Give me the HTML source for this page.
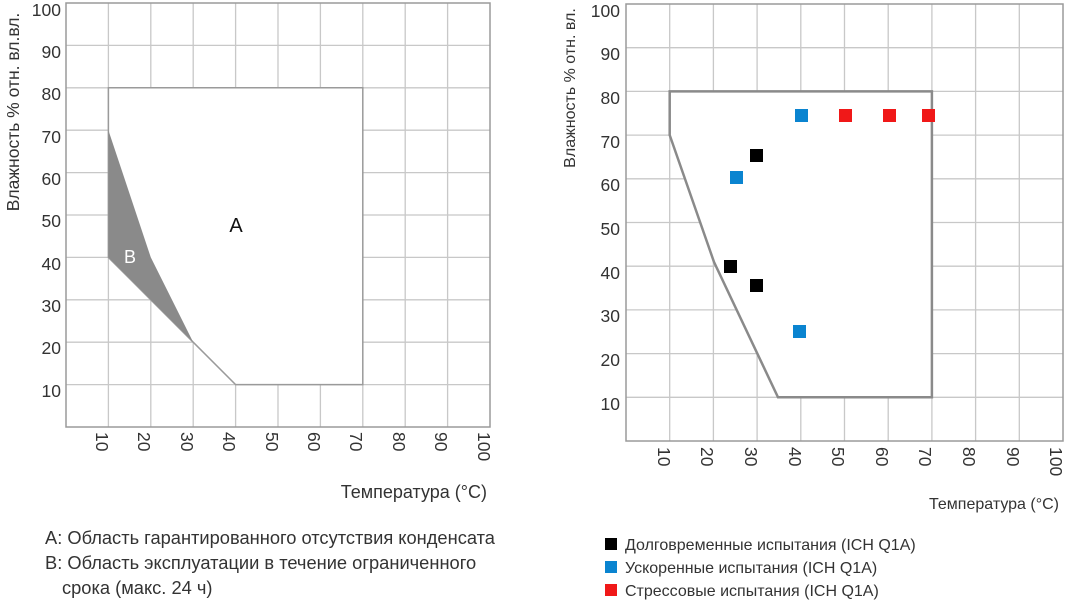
<!DOCTYPE html>
<html><head><meta charset="utf-8"><style>
html,body{margin:0;padding:0;background:#fff;}
svg{display:block;font-family:"Liberation Sans","DejaVu Sans",sans-serif;}
</style></head><body>
<svg width="1068" height="600" viewBox="0 0 1068 600" xmlns="http://www.w3.org/2000/svg">
<!-- LEFT CHART -->
<g stroke="#c8c8c8" stroke-width="1.3">
<line x1="108.4" y1="3" x2="108.4" y2="427"/><line x1="150.8" y1="3" x2="150.8" y2="427"/>
<line x1="193.2" y1="3" x2="193.2" y2="427"/><line x1="235.6" y1="3" x2="235.6" y2="427"/>
<line x1="278" y1="3" x2="278" y2="427"/><line x1="320.4" y1="3" x2="320.4" y2="427"/>
<line x1="362.8" y1="3" x2="362.8" y2="427"/><line x1="405.2" y1="3" x2="405.2" y2="427"/>
<line x1="447.6" y1="3" x2="447.6" y2="427"/>
<line x1="66" y1="45.4" x2="490" y2="45.4"/><line x1="66" y1="87.8" x2="490" y2="87.8"/>
<line x1="66" y1="130.2" x2="490" y2="130.2"/><line x1="66" y1="172.6" x2="490" y2="172.6"/>
<line x1="66" y1="215" x2="490" y2="215"/><line x1="66" y1="257.4" x2="490" y2="257.4"/>
<line x1="66" y1="299.8" x2="490" y2="299.8"/><line x1="66" y1="342.2" x2="490" y2="342.2"/>
<line x1="66" y1="384.6" x2="490" y2="384.6"/>
</g>
<polygon points="108.4,87.8 362.8,87.8 362.8,384.6 235.6,384.6 193.2,342.2 108.4,257.4" fill="#fff" stroke="#9a9a9a" stroke-width="1.5"/>
<polygon points="108.4,130.2 150.8,257.4 193.2,342.2 108.4,257.4" fill="#8a8a8a"/>
<rect x="66" y="3" width="424" height="424" fill="none" stroke="#9a9a9a" stroke-width="1.5"/>
<text x="236" y="232" font-size="20" fill="#111" text-anchor="middle">A</text>
<text x="130" y="263" font-size="18" fill="#fff" text-anchor="middle">B</text>
<g font-size="17.5" fill="#333" text-anchor="end">
<text x="61" y="16">100</text><text x="61" y="58">90</text><text x="61" y="100">80</text>
<text x="61" y="143">70</text><text x="61" y="185">60</text><text x="61" y="227">50</text>
<text x="61" y="270">40</text><text x="61" y="312">30</text><text x="61" y="354">20</text>
<text x="61" y="397">10</text>
</g>
<g font-size="17.5" fill="#333">
<text transform="translate(96,432) rotate(90)">10</text>
<text transform="translate(138,432) rotate(90)">20</text>
<text transform="translate(181,432) rotate(90)">30</text>
<text transform="translate(223,432) rotate(90)">40</text>
<text transform="translate(266,432) rotate(90)">50</text>
<text transform="translate(308,432) rotate(90)">60</text>
<text transform="translate(350,432) rotate(90)">70</text>
<text transform="translate(393,432) rotate(90)">80</text>
<text transform="translate(435,432) rotate(90)">90</text>
<text transform="translate(478,432) rotate(90)">100</text>
</g>
<text transform="translate(19,112) rotate(-90)" font-size="17.5" fill="#333" text-anchor="middle">Влажность % отн. вл.вл.</text>
<text x="487" y="498" font-size="18" fill="#333" text-anchor="end">Температура (°C)</text>
<g font-size="18.3" fill="#333">
<text x="45" y="544">A: Область гарантированного отсутствия конденсата</text>
<text x="45" y="569">B: Область эксплуатации в течение ограниченного</text>
<text x="62" y="594">срока (макс. 24 ч)</text>
</g>

<!-- RIGHT CHART -->
<g stroke="#c8c8c8" stroke-width="1.3">
<line x1="669.7" y1="4" x2="669.7" y2="441"/><line x1="713.4" y1="4" x2="713.4" y2="441"/>
<line x1="757.1" y1="4" x2="757.1" y2="441"/><line x1="800.8" y1="4" x2="800.8" y2="441"/>
<line x1="844.5" y1="4" x2="844.5" y2="441"/><line x1="888.2" y1="4" x2="888.2" y2="441"/>
<line x1="931.9" y1="4" x2="931.9" y2="441"/><line x1="975.6" y1="4" x2="975.6" y2="441"/>
<line x1="1019.3" y1="4" x2="1019.3" y2="441"/>
<line x1="626" y1="47.7" x2="1063" y2="47.7"/><line x1="626" y1="91.4" x2="1063" y2="91.4"/>
<line x1="626" y1="135.1" x2="1063" y2="135.1"/><line x1="626" y1="178.8" x2="1063" y2="178.8"/>
<line x1="626" y1="222.5" x2="1063" y2="222.5"/><line x1="626" y1="266.2" x2="1063" y2="266.2"/>
<line x1="626" y1="309.9" x2="1063" y2="309.9"/><line x1="626" y1="353.6" x2="1063" y2="353.6"/>
<line x1="626" y1="397.3" x2="1063" y2="397.3"/>
</g>
<polygon points="669.7,91.4 931.9,91.4 931.9,397.3 778,397.3 714,262 669.7,135.1" fill="#fff" stroke="#8a8a8a" stroke-width="2.5"/>
<rect x="626" y="4" width="437" height="437" fill="none" stroke="#9a9a9a" stroke-width="1.5"/>
<g>
<rect x="795" y="109" width="13" height="13" fill="#0a84d0"/>
<rect x="839" y="109" width="13" height="13" fill="#f01818"/>
<rect x="883" y="109" width="13" height="13" fill="#f01818"/>
<rect x="922" y="109" width="13" height="13" fill="#f01818"/>
<rect x="750" y="149" width="13" height="13" fill="#000"/>
<rect x="730" y="171" width="13" height="13" fill="#0a84d0"/>
<rect x="724" y="260" width="13" height="13" fill="#000"/>
<rect x="750" y="279" width="13" height="13" fill="#000"/>
<rect x="793" y="325" width="13" height="13" fill="#0a84d0"/>
</g>
<g font-size="17.5" fill="#333" text-anchor="end">
<text x="620" y="17">100</text><text x="620" y="60">90</text><text x="620" y="104">80</text>
<text x="620" y="148">70</text><text x="620" y="191">60</text><text x="620" y="235">50</text>
<text x="620" y="279">40</text><text x="620" y="322">30</text><text x="620" y="366">20</text>
<text x="620" y="410">10</text>
</g>
<g font-size="17.5" fill="#333">
<text transform="translate(658,447) rotate(90)">10</text>
<text transform="translate(701,447) rotate(90)">20</text>
<text transform="translate(745,447) rotate(90)">30</text>
<text transform="translate(789,447) rotate(90)">40</text>
<text transform="translate(832,447) rotate(90)">50</text>
<text transform="translate(876,447) rotate(90)">60</text>
<text transform="translate(919,447) rotate(90)">70</text>
<text transform="translate(963,447) rotate(90)">80</text>
<text transform="translate(1007,447) rotate(90)">90</text>
<text transform="translate(1050,447) rotate(90)">100</text>
</g>
<text transform="translate(575,88) rotate(-90)" font-size="16" fill="#333" text-anchor="middle">Влажность % отн. вл.</text>
<text x="1059" y="509" font-size="16" fill="#333" text-anchor="end">Температура (°C)</text>
<rect x="605" y="538" width="12" height="12" fill="#000"/>
<rect x="605" y="561" width="12" height="12" fill="#0a84d0"/>
<rect x="605" y="584" width="12" height="12" fill="#f01818"/>
<g font-size="16" fill="#333">
<text x="625" y="550">Долговременные испытания (ICH Q1A)</text>
<text x="625" y="573">Ускоренные испытания (ICH Q1A)</text>
<text x="625" y="596">Стрессовые испытания (ICH Q1A)</text>
</g>
</svg>
</body></html>
